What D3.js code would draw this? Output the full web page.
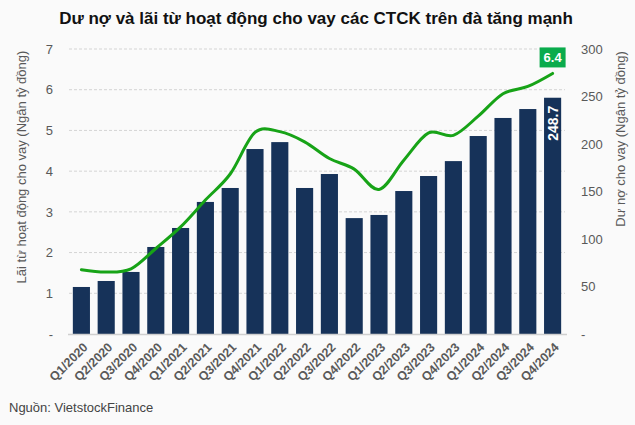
<!DOCTYPE html>
<html><head><meta charset="utf-8">
<script src="https://cdn.jsdelivr.net/npm/d3@7/dist/d3.min.js"></script>
<style>
body{margin:0;background:#fafafa;}
svg{display:block;font-family:"Liberation Sans",Arial,sans-serif;}
</style></head>
<body><svg id="c" width="635" height="425"></svg>
<script>
const categories = ["Q1/2020","Q2/2020","Q3/2020","Q4/2020","Q1/2021","Q2/2021","Q3/2021","Q4/2021","Q1/2022","Q2/2022","Q3/2022","Q4/2022","Q1/2023","Q2/2023","Q3/2023","Q4/2023","Q1/2024","Q2/2024","Q3/2024","Q4/2024"];
const loanBalance = [49.5,55.8,65.3,91.6,111.6,139,153.7,194.7,202,153.7,168.4,122,125.3,150.5,166.3,182,208.4,227.4,236.8,248.7];
const lendingIncome = [1.58,1.52,1.6,2.1,2.63,3.29,3.93,4.95,4.97,4.72,4.31,4.05,3.55,4.27,4.94,4.88,5.35,5.9,6.08,6.4];
const leftTicks = [0,1,2,3,4,5,6,7];
const rightTicks = [0,50,100,150,200,250,300];

const svg = d3.select("#c");
const x0 = 69, x1 = 565, yBottom = 334, yTop = 49;
const x = d3.scaleBand().domain(categories).range([x0,x1]).paddingInner(0.31).paddingOuter(0.155);
const yL = d3.scaleLinear().domain([0,7]).range([yBottom,yTop]);
const yR = d3.scaleLinear().domain([0,300]).range([yBottom,yTop]);

// title
svg.append("text").attr("x",316).attr("y",24).attr("text-anchor","middle")
  .attr("font-size",17).attr("font-weight","bold").attr("fill","#111")
  .text("Dư nợ và lãi từ hoạt động cho vay các CTCK trên đà tăng mạnh");

// gridlines
svg.append("g").selectAll("line").data(leftTicks.filter(d=>d>0)).join("line")
  .attr("x1",x0).attr("x2",x1).attr("y1",d=>yL(d)).attr("y2",d=>yL(d))
  .attr("stroke","#d4d4d4").attr("stroke-width",1).attr("stroke-dasharray","3,2");

// left axis
const gl = svg.append("g").attr("transform",`translate(53,0)`)
  .call(d3.axisLeft(yL).tickValues(leftTicks).tickSize(0).tickPadding(0).tickFormat(d=>d===0?"-":d));
gl.select(".domain").remove();
gl.selectAll("text").attr("font-size",13).attr("fill","#595959").attr("font-family","Liberation Sans, Arial, sans-serif");

// right axis
const gr = svg.append("g").attr("transform",`translate(581,0)`)
  .call(d3.axisRight(yR).tickValues(rightTicks).tickSize(0).tickPadding(0).tickFormat(d=>d===0?"-":d));
gr.select(".domain").remove();
gr.selectAll("text").attr("font-size",13).attr("fill","#595959").attr("font-family","Liberation Sans, Arial, sans-serif");

// axis titles
svg.append("text").attr("transform","translate(26,167) rotate(-90)").attr("text-anchor","middle")
  .attr("font-size",13).attr("fill","#595959").text("Lãi từ hoạt động cho vay (Ngân tỷ đồng)");
svg.append("text").attr("transform","translate(625,139) rotate(-90)").attr("text-anchor","middle")
  .attr("font-size",13).attr("fill","#595959").text("Dư nợ cho vay (Ngân tỷ đồng)");

// bars
svg.append("g").selectAll("rect").data(categories).join("rect")
  .attr("x",d=>x(d)).attr("width",x.bandwidth())
  .attr("y",(d,i)=>yR(loanBalance[i])).attr("height",(d,i)=>yBottom-yR(loanBalance[i]))
  .attr("fill","#163259");

// baseline
svg.append("line").attr("x1",x0-1).attr("x2",x1+2).attr("y1",yBottom+0.5).attr("y2",yBottom+0.5)
  .attr("stroke","#cfcfcf").attr("stroke-width",1.5);

// x labels
svg.append("g").selectAll("text").data(categories).join("text")
  .attr("transform",d=>`translate(${x(d)+x.bandwidth()/2+4},345) rotate(-45)`)
  .attr("text-anchor","end").attr("dy","0.35em")
  .attr("font-size",12.5).attr("font-weight","bold").attr("fill","#595959").text(d=>d);

// line
const line = d3.line().x((d,i)=>x(categories[i])+x.bandwidth()/2).y(d=>yL(d)).curve(d3.curveCardinal.tension(0));
svg.append("path").datum(lendingIncome).attr("d",line).attr("fill","none")
  .attr("stroke","#17a317").attr("stroke-width",3).attr("stroke-linecap","round");

// last labels
const last = categories.length-1;
const lx = x(categories[last])+x.bandwidth()/2;
svg.append("rect").attr("x",lx-13).attr("y",yL(lendingIncome[last])-26).attr("width",26).attr("height",20)
  .attr("fill","#0aab4c");
svg.append("text").attr("x",lx).attr("y",yL(lendingIncome[last])-16).attr("dy","0.35em")
  .attr("text-anchor","middle").attr("font-size",13).attr("font-weight","bold").attr("fill","#fff")
  .text(lendingIncome[last]);
svg.append("text").attr("transform",`translate(${lx},${yR(loanBalance[last])+8}) rotate(-90)`)
  .attr("text-anchor","end").attr("dy","0.36em").attr("font-size",14).attr("font-weight","bold").attr("fill","#fff")
  .text(loanBalance[last]);

// source
svg.append("text").attr("x",9).attr("y",412).attr("font-size",13).attr("fill","#444").text("Nguồn: VietstockFinance");
</script></body></html>
